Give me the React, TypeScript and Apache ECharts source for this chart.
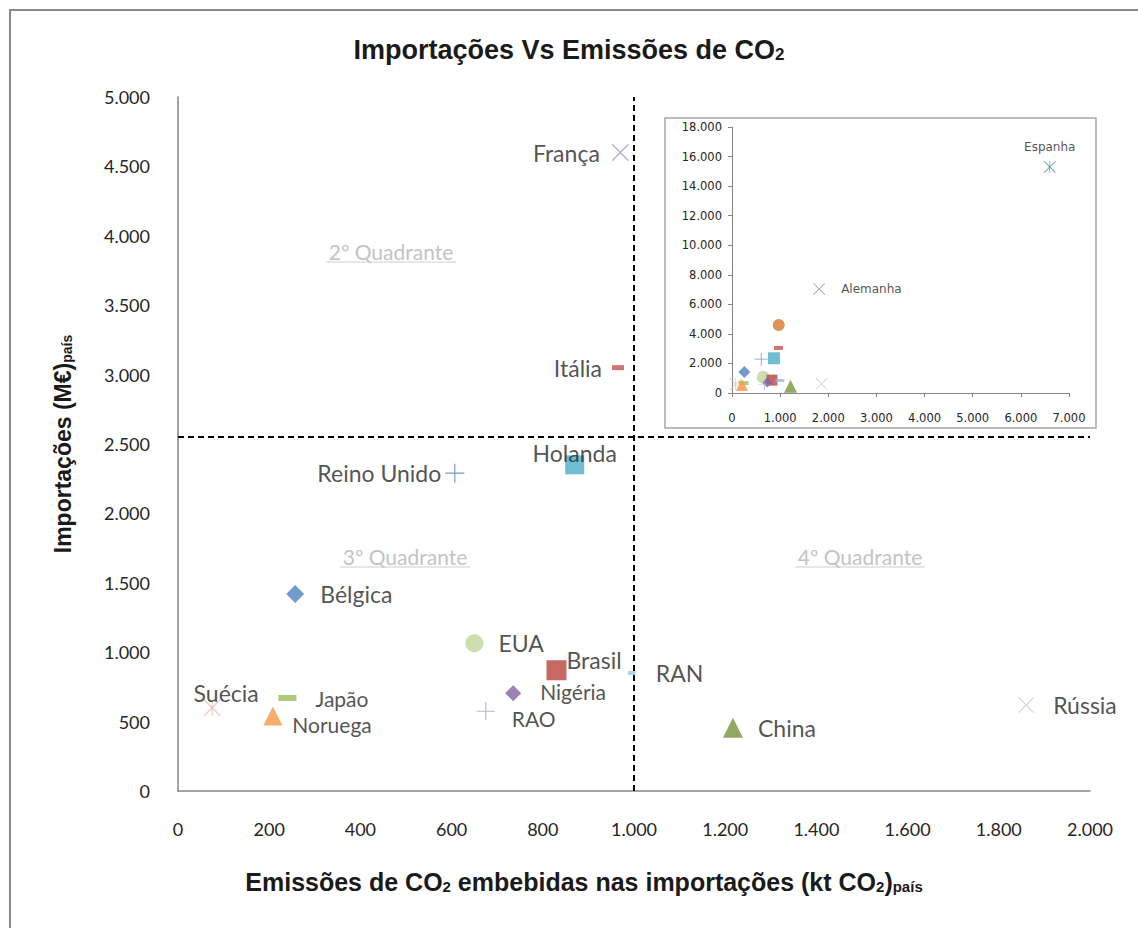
import React, { useEffect, useRef } from "react";
import * as echarts from "echarts";

// ---- data ----
const countries = ["França", "Itália", "Holanda", "Reino Unido", "Bélgica", "EUA", "Brasil", "RAN", "Nigéria", "RAO", "Suécia", "Japão", "Noruega", "China", "Rússia", "Alemanha", "Espanha"];
const emissions = [970, 965, 870, 607, 257, 650, 830, 995, 735, 675, 75, 240, 208, 1217, 1860, 1810, 6600];
const imports = [4600, 3050, 2350, 2290, 1420, 1065, 870, 850, 705, 575, 600, 670, 540, 455, 620, 7040, 15300];
const insetOnly = ["Alemanha", "Espanha"];
const xThreshold = 1000;
const yThreshold = 2550;
const quadrantLabels = ["2º Quadrante", "3º Quadrante", "4º Quadrante"];

// ---- styles ----
const CROSS = "M1,0L20,19L19,20L0,1Z M19,0L20,1L1,20L0,19Z";
const PLUS = "M0,9.4H20V10.6H0Z M9.4,0H10.6V20H9.4Z";
const STAR = CROSS + " M9.4,0H10.6V20H9.4Z";
const P = (d: string) => "path://" + d;

type Mk = { symbol: string; size: number | number[]; color: string };
const mainMarks: Record<string, Mk> = {
  "França": { symbol: P(CROSS), size: 17, color: "#8a8cb8" },
  "Itália": { symbol: "rect", size: [12, 5], color: "#c0504d" },
  "Holanda": { symbol: "rect", size: 19, color: "#4bacc6" },
  "Reino Unido": { symbol: P(PLUS), size: 19, color: "#4f81bd" },
  "Bélgica": { symbol: "diamond", size: 18, color: "#4f81bd" },
  "EUA": { symbol: "circle", size: 18, color: "#c3d69b" },
  "Brasil": { symbol: "rect", size: 20, color: "#b8433f" },
  "RAN": { symbol: "rect", size: [8, 4], color: "#93cddd" },
  "Nigéria": { symbol: "diamond", size: 16, color: "#8064a2" },
  "RAO": { symbol: P(PLUS), size: 18, color: "#a99bc8" },
  "Suécia": { symbol: P(STAR), size: 17, color: "#e6b9b8" },
  "Japão": { symbol: "rect", size: [18, 6], color: "#9bbb59" },
  "Noruega": { symbol: "triangle", size: 19, color: "#f79646" },
  "China": { symbol: "triangle", size: 20, color: "#77933c" },
  "Rússia": { symbol: P(CROSS), size: 16, color: "#c6c6de" },
};
const mainLabels: Record<string, any> = {
  "França": { position: "left", distance: 12 },
  "Itália": { position: "left", distance: 10 },
  "Holanda": { position: "inside", offset: [0, -12] },
  "Reino Unido": { position: "left", distance: 4 },
  "Bélgica": { position: "right", distance: 16 },
  "EUA": { position: "right", distance: 15 },
  "Brasil": { position: "right", distance: 0, offset: [0, -10] },
  "RAN": { position: "right", distance: 20 },
  "Nigéria": { position: "right", distance: 19, offset: [0, -2], fontSize: 21 },
  "RAO": { position: "right", distance: 17, offset: [0, 7], fontSize: 21 },
  "Suécia": { position: "inside", offset: [14, -15] },
  "Japão": { position: "right", distance: 19, offset: [0, 0], fontSize: 21 },
  "Noruega": { position: "right", distance: 10, offset: [0, 8], fontSize: 21 },
  "China": { position: "right", distance: 15 },
  "Rússia": { position: "right", distance: 19 },
};
const insetMarks: Record<string, Mk> = {
  "França": { symbol: "circle", size: 12, color: "#d4782f" },
  "Itália": { symbol: "rect", size: [9, 4], color: "#c0504d" },
  "Holanda": { symbol: "rect", size: 12, color: "#4bacc6" },
  "Reino Unido": { symbol: P(PLUS), size: 13, color: "#4f81bd" },
  "Bélgica": { symbol: "diamond", size: 12, color: "#4f81bd" },
  "EUA": { symbol: "circle", size: 13, color: "#c3d69b" },
  "Brasil": { symbol: "rect", size: 11, color: "#b8433f" },
  "RAN": { symbol: "rect", size: [9, 3], color: "#93b3dd" },
  "Nigéria": { symbol: "diamond", size: 10, color: "#8064a2" },
  "RAO": { symbol: P(PLUS), size: 12, color: "#a99bc8" },
  "Suécia": { symbol: P(STAR), size: 12, color: "#e6b9b8" },
  "Japão": { symbol: "rect", size: [10, 4], color: "#9bbb59" },
  "Noruega": { symbol: "triangle", size: 12, color: "#f79646" },
  "China": { symbol: "triangle", size: 13, color: "#77933c" },
  "Rússia": { symbol: P(CROSS), size: 12, color: "#c6c6de" },
  "Alemanha": { symbol: P(CROSS), size: 12, color: "#8a8cb8" },
  "Espanha": { symbol: P(STAR), size: 12, color: "#31859c" },
};
const insetLabels: Record<string, any> = {
  "Alemanha": { position: "right", distance: 16 },
  "Espanha": { position: "top", distance: 8 },
};

const fmt = (v: number) => String(v).replace(/\B(?=(\d{3})+(?!\d))/g, ".");

const TXT = "#262626";
const LABEL_FONT = "Lato";
const BOLD_FONT = "Liberation Sans";

export default function App() {
  const ref = useRef<HTMLDivElement>(null);
  useEffect(() => {
    if (!ref.current) return;
    const chart = echarts.init(ref.current, undefined, { renderer: "svg" });

    const mainData = countries
      .map((c, i) => ({ c, i }))
      .filter(({ c }) => !insetOnly.includes(c))
      .map(({ c, i }) => {
        const m = mainMarks[c];
        return {
          name: c,
          value: [emissions[i], imports[i]],
          symbol: m.symbol,
          symbolSize: m.size,
          itemStyle: { color: m.color },
          label: { show: true, formatter: "{b}", fontFamily: LABEL_FONT, fontSize: 23, lineHeight: 17, color: TXT, ...mainLabels[c] },
        };
      });
    const insetData = countries.map((c, i) => {
      const m = insetMarks[c];
      const l = insetLabels[c];
      return {
        name: c,
        value: [emissions[i], imports[i]],
        symbol: m.symbol,
        symbolSize: m.size,
        itemStyle: { color: m.color },
        label: l
          ? { show: true, formatter: "{b}", fontFamily: "DejaVu Sans", fontSize: 12, color: TXT, ...l }
          : { show: false },
      };
    });

    const qPos = [
      [391, 251],
      [405, 556],
      [860, 556],
    ];
    const qGraphics: any[] = [];
    quadrantLabels.forEach((t, k) => {
      qGraphics.push({
        type: "text",
        x: qPos[k][0],
        y: qPos[k][1],
        style: { text: t, fill: "#c4c4c4", font: `21px ${LABEL_FONT}`, align: "center", verticalAlign: "middle" },
      });
      qGraphics.push({
        type: "line",
        shape: { x1: qPos[k][0] - 65, y1: qPos[k][1] + 11, x2: qPos[k][0] + 65, y2: qPos[k][1] + 11 },
        style: { stroke: "#d0d0d0", lineWidth: 1.2 },
      });
    });

    const boldRich = (size: number, sub: number) => ({
      a: { fontFamily: BOLD_FONT, fontWeight: "bold", fontSize: size, color: "#1a1a1a" },
      s: { fontFamily: BOLD_FONT, fontWeight: "bold", fontSize: sub, color: "#1a1a1a", verticalAlign: "bottom" },
    });

    chart.setOption({
      animation: false,
      backgroundColor: "#ffffff",
      title: {
        text: "{a|Importações Vs Emissões de CO}{s|2}",
        left: "center",
        top: 31,
        textStyle: { rich: boldRich(27, 17) },
      },
      graphic: [
        { type: "rect", z: -2, shape: { x: 10, y: 10, width: 1140, height: 930 }, style: { fill: "none", stroke: "#8a8a8a", lineWidth: 2 } },
        { type: "rect", z: -1, shape: { x: 665, y: 118, width: 431, height: 310 }, style: { fill: "#ffffff", stroke: "#a6a6a6", lineWidth: 1.5 } },
        ...qGraphics,
      ],
      grid: [
        { left: 178, top: 97, width: 912, height: 694 },
        { left: 732, top: 127, width: 337, height: 266 },
      ],
      xAxis: [
        {
          gridIndex: 0,
          type: "value",
          min: 0,
          max: 2000,
          interval: 200,
          axisLine: { show: true, onZero: false, lineStyle: { color: "#868686", width: 1.5 } },
          axisTick: { show: false },
          splitLine: { show: false },
          axisLabel: { formatter: fmt, fontFamily: LABEL_FONT, fontSize: 18, color: TXT, margin: 29 },
          name: "{a|Emissões de CO}{s|2}{a| embebidas nas importações (kt CO}{s|2}{a|)}{s|país}",
          nameLocation: "middle",
          nameGap: 78,
          nameTextStyle: { rich: boldRich(25, 15), padding: [0, 100, 0, 0] },
        },
        {
          gridIndex: 1,
          type: "value",
          min: 0,
          max: 7000,
          interval: 1000,
          axisLine: { show: true, onZero: false, lineStyle: { color: "#868686" } },
          axisTick: { show: true, length: 4, lineStyle: { color: "#868686" } },
          splitLine: { show: false },
          axisLabel: { formatter: fmt, fontFamily: "DejaVu Sans", fontSize: 11.5, color: TXT, margin: 19 },
        },
      ],
      yAxis: [
        {
          gridIndex: 0,
          type: "value",
          min: 0,
          max: 5000,
          interval: 500,
          axisLine: { show: true, onZero: false, lineStyle: { color: "#868686", width: 1.5 } },
          axisTick: { show: false },
          splitLine: { show: false },
          axisLabel: { formatter: fmt, fontFamily: LABEL_FONT, fontSize: 18, color: TXT, margin: 28 },
          name: "{a|Importações (M€)}{s|país}",
          nameLocation: "middle",
          nameGap: 104,
          nameTextStyle: { rich: boldRich(23, 14) },
        },
        {
          gridIndex: 1,
          type: "value",
          min: 0,
          max: 18000,
          interval: 2000,
          axisLine: { show: true, onZero: false, lineStyle: { color: "#868686" } },
          axisTick: { show: true, length: 4, lineStyle: { color: "#868686" } },
          splitLine: { show: false },
          axisLabel: { formatter: fmt, fontFamily: "DejaVu Sans", fontSize: 11.5, color: TXT, margin: 10 },
        },
      ],
      series: [
        {
          type: "scatter",
          xAxisIndex: 0,
          yAxisIndex: 0,
          data: mainData,
          markLine: {
            silent: true,
            symbol: "none",
            label: { show: false },
            lineStyle: { type: [6, 4], color: "#000000", width: 2 },
            data: [{ xAxis: xThreshold }, { yAxis: yThreshold }],
          },
        },
        {
          type: "scatter",
          xAxisIndex: 1,
          yAxisIndex: 1,
          data: insetData,
        },
      ],
    });
    return () => chart.dispose();
  }, []);
  return <div ref={ref} style={{ position: "absolute", left: 0, top: 0, width: 1138, height: 928 }} />;
}
